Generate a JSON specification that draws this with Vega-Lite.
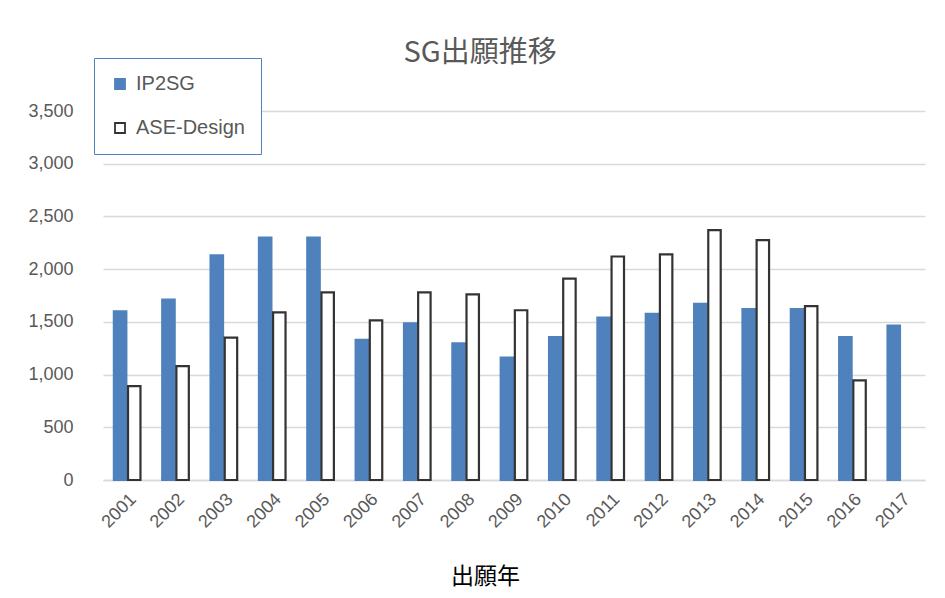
{
  "$schema": "https://vega.github.io/schema/vega-lite/v6.json",
  "width": 822,
  "height": 369,
  "autosize": "none",
  "padding": {"left": 103, "top": 111, "right": 20, "bottom": 118},
  "background": "white",
  "title": {
    "text": "SG出願推移",
    "fontSize": 29,
    "font": "Noto Sans CJK JP",
    "fontWeight": "normal",
    "color": "#595959",
    "offset": -10,
    "dx": -34
  },
  "data": {
    "values": [
      {"year": "2001", "series": "IP2SG", "value": 1600},
      {"year": "2001", "series": "ASE-Design", "value": 890},
      {"year": "2002", "series": "IP2SG", "value": 1710},
      {"year": "2002", "series": "ASE-Design", "value": 1080},
      {"year": "2003", "series": "IP2SG", "value": 2130},
      {"year": "2003", "series": "ASE-Design", "value": 1350},
      {"year": "2004", "series": "IP2SG", "value": 2300},
      {"year": "2004", "series": "ASE-Design", "value": 1590},
      {"year": "2005", "series": "IP2SG", "value": 2300},
      {"year": "2005", "series": "ASE-Design", "value": 1780},
      {"year": "2006", "series": "IP2SG", "value": 1330},
      {"year": "2006", "series": "ASE-Design", "value": 1515},
      {"year": "2007", "series": "IP2SG", "value": 1485},
      {"year": "2007", "series": "ASE-Design", "value": 1780},
      {"year": "2008", "series": "IP2SG", "value": 1295},
      {"year": "2008", "series": "ASE-Design", "value": 1760},
      {"year": "2009", "series": "IP2SG", "value": 1160},
      {"year": "2009", "series": "ASE-Design", "value": 1610},
      {"year": "2010", "series": "IP2SG", "value": 1355},
      {"year": "2010", "series": "ASE-Design", "value": 1910},
      {"year": "2011", "series": "IP2SG", "value": 1540},
      {"year": "2011", "series": "ASE-Design", "value": 2120},
      {"year": "2012", "series": "IP2SG", "value": 1575},
      {"year": "2012", "series": "ASE-Design", "value": 2140},
      {"year": "2013", "series": "IP2SG", "value": 1670},
      {"year": "2013", "series": "ASE-Design", "value": 2370},
      {"year": "2014", "series": "IP2SG", "value": 1620},
      {"year": "2014", "series": "ASE-Design", "value": 2275},
      {"year": "2015", "series": "IP2SG", "value": 1620},
      {"year": "2015", "series": "ASE-Design", "value": 1650},
      {"year": "2016", "series": "IP2SG", "value": 1355},
      {"year": "2016", "series": "ASE-Design", "value": 945},
      {"year": "2017", "series": "IP2SG", "value": 1465}
    ]
  },
  "mark": {"type": "bar", "strokeWidth": 2.2},
  "encoding": {
    "x": {
      "field": "year",
      "type": "nominal",
      "scale": {"paddingInner": 0.45, "paddingOuter": 0.225},
      "axis": {
        "title": "出願年",
        "titleFont": "Noto Sans CJK JP",
        "titleFontSize": 23,
        "titleFontWeight": "normal",
        "titleColor": "#000000",
        "titlePadding": 34,
        "titleX": 382,
        "labelAngle": -45,
        "labelFont": "Liberation Sans",
        "labelFontSize": 18,
        "labelColor": "#595959",
        "labelPadding": 10,
        "ticks": false,
        "domainColor": "#d9d9d9",
        "domainWidth": 1.5
      }
    },
    "xOffset": {
      "field": "series",
      "type": "nominal",
      "sort": ["IP2SG", "ASE-Design"],
      "scale": {"paddingInner": 0.12}
    },
    "y": {
      "field": "value",
      "type": "quantitative",
      "scale": {"domain": [0, 3500], "nice": false},
      "axis": {
        "title": null,
        "values": [0, 500, 1000, 1500, 2000, 2500, 3000, 3500],
        "format": ",d",
        "labelFont": "Liberation Sans",
        "labelFontSize": 18,
        "labelColor": "#595959",
        "labelPadding": 30,
        "ticks": false,
        "domain": false,
        "gridColor": "#d9d9d9",
        "gridWidth": 1.5
      }
    },
    "fill": {
      "field": "series",
      "type": "nominal",
      "sort": ["IP2SG", "ASE-Design"],
      "scale": {"domain": ["IP2SG", "ASE-Design"], "range": ["#4f81bd", "#ffffff"]},
      "legend": {
        "title": null,
        "orient": "none",
        "legendX": -9,
        "legendY": -53,
        "direction": "vertical",
        "strokeColor": "#4f81bd",
        "fillColor": "#ffffff",
        "padding": 16,
        "rowPadding": 24,
        "symbolType": "square",
        "symbolSize": 100,
        "symbolStrokeWidth": 1.8,
        "labelFont": "Liberation Sans",
        "labelFontSize": 20,
        "labelColor": "#595959",
        "labelOffset": 6
      }
    },
    "stroke": {
      "field": "series",
      "type": "nominal",
      "sort": ["IP2SG", "ASE-Design"],
      "scale": {"domain": ["IP2SG", "ASE-Design"], "range": ["#4f81bd", "#333333"]},
      "legend": {
        "title": null,
        "orient": "none",
        "legendX": -9,
        "legendY": -53,
        "direction": "vertical",
        "strokeColor": "#4f81bd",
        "fillColor": "#ffffff",
        "padding": 16,
        "rowPadding": 24,
        "symbolType": "square",
        "symbolSize": 100,
        "symbolStrokeWidth": 1.8,
        "labelFont": "Liberation Sans",
        "labelFontSize": 20,
        "labelColor": "#595959",
        "labelOffset": 6
      }
    }
  },
  "config": {"view": {"stroke": null}}
}
